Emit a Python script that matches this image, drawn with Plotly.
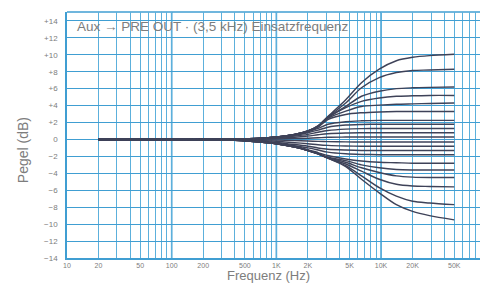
import plotly.graph_objects as go

freqs = [20, 100, 300, 700, 1000, 1500, 2000, 2500, 3100, 4600, 6500, 9600, 14000, 20000, 29000, 50000]

# Level (dB) of each curve of the family, read at the frequencies above
curve_p10 = [0, 0, 0.03, 0.15, 0.3, 0.6, 1.0, 1.6, 2.7, 4.7, 6.7, 8.3, 9.3, 9.7, 9.9, 10.05]
curve_p8 = [0, 0, 0.03, 0.15, 0.3, 0.6, 1.0, 1.6, 2.65, 4.3, 6.1, 7.3, 7.9, 8.15, 8.2, 8.3]
curve_p6 = [0, 0, 0.03, 0.15, 0.3, 0.6, 1.0, 1.55, 2.6, 3.9, 5.1, 5.7, 6.0, 6.1, 6.15, 6.2]
curve_p5 = [0, 0, 0.03, 0.15, 0.3, 0.6, 1.0, 1.55, 2.55, 3.75, 4.5, 4.9, 5.1, 5.15, 5.2, 5.2]
curve_p4 = [0, 0, 0.03, 0.15, 0.3, 0.6, 0.95, 1.5, 2.5, 3.35, 3.9, 4.05, 4.15, 4.2, 4.25, 4.3]
curve_p3 = [0, 0, 0.03, 0.15, 0.3, 0.6, 0.95, 1.45, 2.35, 2.95, 3.15, 3.25, 3.3, 3.3, 3.3, 3.3]
curve_p2 = [0, 0, 0.03, 0.15, 0.3, 0.55, 0.9, 1.3, 1.8, 2.1, 2.2, 2.25, 2.25, 2.25, 2.25, 2.25]
curve_p18 = [0, 0, 0.03, 0.12, 0.25, 0.5, 0.8, 1.1, 1.45, 1.7, 1.77, 1.8, 1.8, 1.8, 1.8, 1.8]
curve_p13 = [0, 0, 0.02, 0.1, 0.2, 0.4, 0.6, 0.85, 1.05, 1.22, 1.28, 1.3, 1.3, 1.3, 1.3, 1.3]
curve_p08 = [0, 0, 0.02, 0.07, 0.13, 0.25, 0.4, 0.55, 0.67, 0.76, 0.79, 0.8, 0.8, 0.8, 0.8, 0.8]
curve_p03 = [0, 0, 0.01, 0.03, 0.05, 0.1, 0.15, 0.2, 0.25, 0.28, 0.3, 0.3, 0.3, 0.3, 0.3, 0.3]
curve_m03 = [0, 0, -0.01, -0.05, -0.08, -0.14, -0.19, -0.23, -0.26, -0.29, -0.3, -0.3, -0.3, -0.3, -0.3, -0.3]
curve_m08 = [0, 0, -0.03, -0.12, -0.22, -0.38, -0.5, -0.62, -0.7, -0.77, -0.8, -0.8, -0.8, -0.8, -0.8, -0.8]
curve_m13 = [0, 0, -0.04, -0.2, -0.35, -0.6, -0.8, -1.0, -1.15, -1.25, -1.3, -1.3, -1.3, -1.3, -1.3, -1.3]
curve_m18 = [0, 0, -0.05, -0.25, -0.45, -0.75, -1.0, -1.25, -1.5, -1.7, -1.77, -1.8, -1.8, -1.8, -1.8, -1.8]
curve_m28 = [0, 0, -0.05, -0.3, -0.5, -0.85, -1.2, -1.55, -1.9, -2.3, -2.55, -2.7, -2.75, -2.8, -2.8, -2.8]
curve_m36 = [0, 0, -0.05, -0.3, -0.5, -0.9, -1.3, -1.65, -2.1, -2.5, -3.0, -3.35, -3.55, -3.6, -3.6, -3.6]
curve_m45 = [0, 0, -0.05, -0.3, -0.5, -0.9, -1.3, -1.7, -2.15, -2.7, -3.35, -3.9, -4.3, -4.45, -4.5, -4.5]
curve_m56 = [0, 0, -0.05, -0.3, -0.5, -0.9, -1.3, -1.7, -2.2, -2.9, -3.75, -4.7, -5.3, -5.5, -5.55, -5.6]
curve_m77 = [0, 0, -0.05, -0.3, -0.5, -0.9, -1.3, -1.7, -2.2, -3.1, -4.3, -5.7, -6.7, -7.3, -7.5, -7.7]
curve_m95 = [0, 0, -0.05, -0.3, -0.5, -0.9, -1.3, -1.7, -2.2, -3.2, -4.7, -6.3, -7.7, -8.5, -9.0, -9.5]

curves = [curve_p10, curve_p8, curve_p6, curve_p5, curve_p4, curve_p3, curve_p2,
          curve_p18, curve_p13, curve_p08, curve_p03, curve_m03, curve_m08, curve_m13,
          curve_m18, curve_m28, curve_m36, curve_m45, curve_m56, curve_m77, curve_m95]

# Axis tick labels
x_tickvals = [10, 20, 50, 100, 200, 500, 1000, 2000, 5000, 10000, 20000, 50000]
x_ticktext = ["10", "20", "50", "100", "200", "500", "1K", "2K", "5K", "10K", "20K", "50K"]
y_tickvals = [14, 12, 10, 8, 6, 4, 2, 0, -2, -4, -6, -8, -10, -12, -14]
y_ticktext = ["+14", "+12", "+10", "+8", "+6", "+4", "+2", "0",
              "\u22122", "\u22124", "\u22126", "\u22128", "\u221210", "\u221212", "\u221214"]

title_text = "Aux \u2192 PRE OUT \u00b7 (3,5 kHz) Einsatzfrequenz"
x_title = "Frequenz (Hz)"
y_title = "Pegel (dB)"

minor_vals = [k * 10 ** e for e in range(1, 5) for k in range(1, 10)] + [100000]
decades = [100, 1000, 10000]

GRID = "rgb(92,176,220)"
GRID_H = "rgb(64,158,210)"
LINE = "rgb(62,66,88)"
TEXT = "rgb(125,125,125)"
FONT = "Liberation Sans, Arial, sans-serif"

fig = go.Figure()
for c in curves:
    fig.add_trace(go.Scatter(x=freqs, y=c, mode="lines",
                             line=dict(color=LINE, width=1.45, shape="spline", smoothing=0.8),
                             showlegend=False, hoverinfo="skip"))

shapes = []
for d in decades:
    shapes.append(dict(type="line", xref="x", yref="paper", x0=d, x1=d, y0=0, y1=1,
                       line=dict(color=GRID_H, width=1.6), layer="below"))
# top border
shapes.append(dict(type="line", xref="paper", yref="paper", x0=0, x1=1, y0=1, y1=1,
                   line=dict(color=GRID_H, width=1.5), layer="below"))

fig.update_layout(
    width=480, height=285,
    margin=dict(l=67, r=0, t=12, b=27),
    paper_bgcolor="white", plot_bgcolor="white",
    font=dict(family=FONT, color=TEXT),
    shapes=shapes,
    xaxis=dict(type="log", range=[1, 4.945], tickvals=x_tickvals, ticktext=x_ticktext,
               showgrid=False, zeroline=False, showline=True, linecolor=GRID_H, linewidth=1.5,
               ticks="", tickfont=dict(size=7, color=TEXT, family=FONT), ticklabelstandoff=0,
               minor=dict(tickvals=minor_vals, showgrid=True, gridcolor=GRID, gridwidth=1, ticks="")),
    yaxis=dict(range=[-14, 15.05], tickvals=y_tickvals, ticktext=y_ticktext,
               showgrid=True, gridcolor=GRID_H, gridwidth=1.3, zeroline=False,
               showline=True, linecolor=GRID_H, linewidth=1.5, mirror=False,
               ticks="", tickfont=dict(size=8, color=TEXT, family=FONT), ticklabelstandoff=6),
    annotations=[
        dict(text=title_text, xref="paper", yref="paper", x=0.02, y=0.94, xanchor="left",
             yanchor="middle", showarrow=False, font=dict(size=13.5, color=TEXT, family=FONT)),
        dict(text=x_title, xref="paper", yref="paper", x=0.488, y=-0.1095, xanchor="center",
             yanchor="bottom", showarrow=False, font=dict(size=13, color=TEXT, family=FONT)),
        dict(text=y_title, xref="paper", yref="paper", x=-0.108, y=0.44, xanchor="center",
             yanchor="middle", textangle=-90, showarrow=False,
             font=dict(size=14, color=TEXT, family=FONT)),
    ],
)

fig.write_html("out.html", config={"displayModeBar": False},
               post_script="document.body.style.margin='0';document.body.style.overflow='hidden';")
